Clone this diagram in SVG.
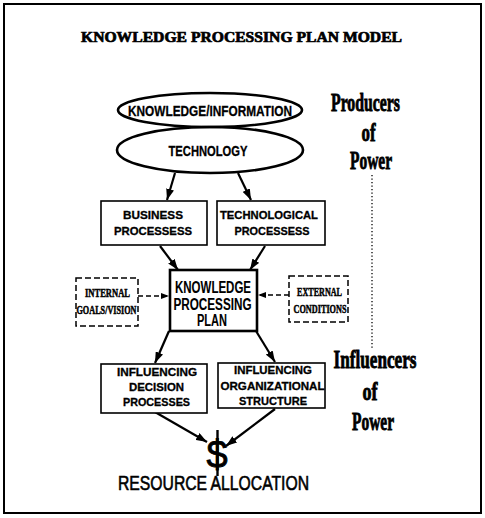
<svg xmlns="http://www.w3.org/2000/svg" width="485" height="518" viewBox="0 0 485 518">
<style>
.box{fill:#fff;stroke:#000;stroke-width:1.6}
.dbox{fill:#fff;stroke:#000;stroke-width:1.5;stroke-dasharray:6,3}
.ell{fill:none;stroke:#000;stroke-width:2.6}
.sans{font-family:"Liberation Sans Narrow","Liberation Sans",Arial,sans-serif;font-weight:bold;text-anchor:middle;fill:#000;stroke:#000;stroke-width:0.3}
.serif{font-family:"Liberation Serif","Times New Roman",serif;font-weight:bold;text-anchor:middle;fill:#000;stroke:#000;stroke-width:0.5}
.power{font-family:"Liberation Serif","Times New Roman",serif;font-weight:bold;text-anchor:middle;fill:#000;stroke:#000;stroke-width:0.9}
.conn{stroke:#000;stroke-width:2.2;fill:none;marker-end:url(#ah)}
.dconn{stroke:#000;stroke-width:1.5;fill:none;stroke-dasharray:5,3;marker-end:url(#ahs)}
</style>
<defs>
<marker id="ah" markerUnits="userSpaceOnUse" markerWidth="11" markerHeight="8" refX="11" refY="4" orient="auto"><path d="M0,0 L11,4 L0,8 z" fill="#000"/></marker>
<marker id="ahs" markerUnits="userSpaceOnUse" markerWidth="8" markerHeight="6" refX="8" refY="3" orient="auto"><path d="M0,0 L8,3 L0,6 z" fill="#000"/></marker>
</defs>
<rect x="0" y="0" width="485" height="518" fill="#fff"/>
<rect x="4" y="4" width="477" height="509" fill="none" stroke="#000" stroke-width="2"/>
<text class="serif" x="241.5" y="42" font-size="14.5" textLength="321" lengthAdjust="spacingAndGlyphs" style="stroke-width:0.7">KNOWLEDGE PROCESSING PLAN MODEL</text>

<g id="connectors">
<line class="conn" x1="175" y1="173" x2="167" y2="200"/>
<line class="conn" x1="238" y1="173" x2="251" y2="200"/>
<line class="conn" x1="160" y1="246" x2="178" y2="270"/>
<line class="conn" x1="265" y1="246" x2="250" y2="270"/>
<line class="conn" x1="169" y1="331" x2="155" y2="363"/>
<line class="conn" x1="256" y1="331" x2="275" y2="362"/>
<line class="conn" x1="155" y1="412" x2="207" y2="442"/>
<line class="conn" x1="275" y1="409" x2="226" y2="446"/>
<line class="dconn" x1="138" y1="296" x2="169" y2="296"/>
<line class="dconn" x1="289" y1="295" x2="258" y2="295"/>
<path d="M372,175 L372,348" stroke="#000" stroke-width="1.3" stroke-dasharray="1.3,2.2" fill="none"/>
</g>

<g id="knowledge-information">
<ellipse class="ell" cx="210" cy="110" rx="92" ry="17"/>
<text class="sans" x="210" y="116" font-size="15" textLength="164" lengthAdjust="spacingAndGlyphs">KNOWLEDGE/INFORMATION</text>
</g>
<g id="technology">
<ellipse class="ell" cx="210" cy="150" rx="93" ry="23"/>
<text class="sans" x="208" y="156" font-size="15" textLength="79" lengthAdjust="spacingAndGlyphs">TECHNOLOGY</text>
</g>

<g id="business-processes">
<rect class="box" x="101" y="201" width="106" height="44"/>
<text class="sans" x="153" y="219" font-size="11.5" textLength="60" lengthAdjust="spacingAndGlyphs">BUSINESS</text>
<text class="sans" x="153" y="235" font-size="11.5" textLength="78" lengthAdjust="spacingAndGlyphs">PROCESSESS</text>
</g>
<g id="technological-processes">
<rect class="box" x="217" y="201" width="108" height="44"/>
<text class="sans" x="269" y="219" font-size="11.5" textLength="98" lengthAdjust="spacingAndGlyphs">TECHNOLOGICAL</text>
<text class="sans" x="272" y="235" font-size="11.5" textLength="75" lengthAdjust="spacingAndGlyphs">PROCESSESS</text>
</g>

<g id="knowledge-processing-plan">
<rect x="170" y="270" width="87" height="61" fill="#fff" stroke="#000" stroke-width="2.6"/>
<text class="sans" x="213" y="293" font-size="16" textLength="76" lengthAdjust="spacingAndGlyphs" style="stroke-width:0.1">KNOWLEDGE</text>
<text class="sans" x="212.5" y="310" font-size="16" textLength="78" lengthAdjust="spacingAndGlyphs" style="stroke-width:0.1">PROCESSING</text>
<text class="sans" x="212" y="326" font-size="16" textLength="30" lengthAdjust="spacingAndGlyphs" style="stroke-width:0.1">PLAN</text>
</g>

<g id="internal-goals">
<rect class="dbox" x="76" y="278" width="62" height="48"/>
<text class="serif" x="107.5" y="297" font-size="12" textLength="45" lengthAdjust="spacingAndGlyphs">INTERNAL</text>
<text class="serif" x="106.5" y="314" font-size="12" textLength="60" lengthAdjust="spacingAndGlyphs">GOALS/VISION</text>
</g>
<g id="external-conditions">
<rect class="dbox" x="289" y="276" width="59" height="46"/>
<text class="serif" x="319.5" y="296" font-size="12" textLength="45" lengthAdjust="spacingAndGlyphs">EXTERNAL</text>
<text class="serif" x="320" y="313" font-size="12" textLength="53" lengthAdjust="spacingAndGlyphs">CONDITIONS</text>
</g>

<g id="influencing-decision">
<rect class="box" x="101" y="364" width="106" height="49"/>
<text class="sans" x="157" y="376" font-size="11" textLength="80" lengthAdjust="spacingAndGlyphs">INFLUENCING</text>
<text class="sans" x="156.5" y="391" font-size="11" textLength="55" lengthAdjust="spacingAndGlyphs">DECISION</text>
<text class="sans" x="156.5" y="406" font-size="11" textLength="67" lengthAdjust="spacingAndGlyphs">PROCESSES</text>
</g>
<g id="influencing-structure">
<rect class="box" x="218" y="363" width="107" height="45"/>
<text class="sans" x="273" y="374" font-size="11" textLength="78" lengthAdjust="spacingAndGlyphs">INFLUENCING</text>
<text class="sans" x="272.5" y="390" font-size="11" textLength="104" lengthAdjust="spacingAndGlyphs">ORGANIZATIONAL</text>
<text class="sans" x="273" y="405" font-size="11" textLength="68" lengthAdjust="spacingAndGlyphs">STRUCTURE</text>
</g>

<g id="resource-allocation">
<text x="217" y="468" font-family="Liberation Sans,Arial,sans-serif" font-size="38" text-anchor="middle" fill="#000" stroke="#000" stroke-width="0.8">$</text>
<line x1="217.5" y1="430" x2="217.5" y2="476" stroke="#000" stroke-width="2.4"/>
<text x="213.5" y="490" font-family="Liberation Sans Narrow,Liberation Sans,Arial,sans-serif" font-size="20" text-anchor="middle" fill="#000" stroke="#000" stroke-width="0.6" textLength="191" lengthAdjust="spacingAndGlyphs">RESOURCE ALLOCATION</text>
</g>

<g id="producers-of-power">
<text class="power" x="365.5" y="111" font-size="26" textLength="69" lengthAdjust="spacingAndGlyphs">Producers</text>
<text class="power" x="368.5" y="141" font-size="26" textLength="14" lengthAdjust="spacingAndGlyphs">of</text>
<text class="power" x="371" y="169" font-size="26" textLength="42" lengthAdjust="spacingAndGlyphs">Power</text>
</g>
<g id="influencers-of-power">
<text class="power" x="375" y="368" font-size="26" textLength="83" lengthAdjust="spacingAndGlyphs">Influencers</text>
<text class="power" x="370" y="400" font-size="26" textLength="15" lengthAdjust="spacingAndGlyphs">of</text>
<text class="power" x="373" y="430" font-size="26" textLength="42" lengthAdjust="spacingAndGlyphs">Power</text>
</g>
</svg>
